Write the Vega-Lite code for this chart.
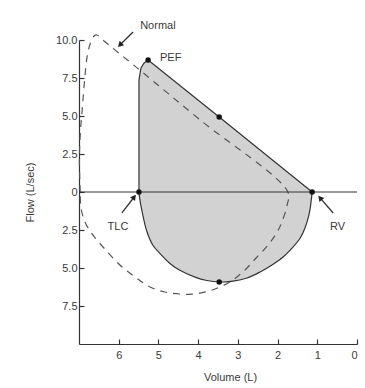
{
  "$schema": "https://vega.github.io/schema/vega-lite/v6.json",
  "autosize": "none",
  "width": 278,
  "height": 304,
  "padding": {"left": 79, "top": 40, "right": 8, "bottom": 44},
  "background": "white",
  "config": {
    "view": {"stroke": null},
    "font": "Liberation Sans",
    "axis": {"grid": false, "domainColor": "#333", "tickColor": "#333", "domainWidth": 1.2, "tickWidth": 1.2, "labelColor": "#3a3a3a", "titleColor": "#3a3a3a", "labelFontSize": 11, "titleFontSize": 11, "titleFontWeight": "normal", "labelFont": "Liberation Sans", "titleFont": "Liberation Sans"}
  },
  "datasets": {
    "loop": [
      {"i": 1, "vol": 5.49, "flow": 0},
      {"i": 2, "vol": 5.49, "flow": 6.05},
      {"i": 3, "vol": 5.49, "flow": 7.37},
      {"i": 4, "vol": 5.44, "flow": 8.16},
      {"i": 5, "vol": 5.36, "flow": 8.49},
      {"i": 6, "vol": 5.26, "flow": 8.68},
      {"i": 7, "vol": 3.47, "flow": 4.93},
      {"i": 8, "vol": 1.13, "flow": 0},
      {"i": 9, "vol": 1.16, "flow": -0.72},
      {"i": 10, "vol": 1.21, "flow": -1.51},
      {"i": 11, "vol": 1.31, "flow": -2.37},
      {"i": 12, "vol": 1.43, "flow": -3.03},
      {"i": 13, "vol": 1.63, "flow": -3.68},
      {"i": 14, "vol": 1.86, "flow": -4.28},
      {"i": 15, "vol": 2.14, "flow": -4.8},
      {"i": 16, "vol": 2.44, "flow": -5.26},
      {"i": 17, "vol": 2.77, "flow": -5.66},
      {"i": 18, "vol": 3.12, "flow": -5.86},
      {"i": 19, "vol": 3.47, "flow": -5.92},
      {"i": 20, "vol": 3.78, "flow": -5.82},
      {"i": 21, "vol": 4.08, "flow": -5.6},
      {"i": 22, "vol": 4.46, "flow": -5.15},
      {"i": 23, "vol": 4.71, "flow": -4.7},
      {"i": 24, "vol": 4.96, "flow": -4.05},
      {"i": 25, "vol": 5.14, "flow": -3.5},
      {"i": 26, "vol": 5.29, "flow": -2.6},
      {"i": 27, "vol": 5.41, "flow": -1.3},
      {"i": 28, "vol": 5.47, "flow": -0.45},
      {"i": 29, "vol": 5.49, "flow": 0}
    ],
    "normal": [
      {"i": 1, "vol": 6.97, "flow": 0},
      {"i": 2, "vol": 6.99, "flow": 2.11},
      {"i": 3, "vol": 6.97, "flow": 3.75},
      {"i": 4, "vol": 6.92, "flow": 5.39},
      {"i": 5, "vol": 6.87, "flow": 7.04},
      {"i": 6, "vol": 6.8, "flow": 8.82},
      {"i": 7, "vol": 6.72, "flow": 9.74},
      {"i": 8, "vol": 6.62, "flow": 10.26},
      {"i": 9, "vol": 6.55, "flow": 10.33},
      {"i": 10, "vol": 6.4, "flow": 10.0},
      {"i": 11, "vol": 5.46, "flow": 8.0},
      {"i": 12, "vol": 3.95, "flow": 4.74},
      {"i": 13, "vol": 1.74, "flow": 0},
      {"i": 14, "vol": 1.76, "flow": -0.86},
      {"i": 15, "vol": 1.89, "flow": -1.97},
      {"i": 16, "vol": 2.01, "flow": -2.63},
      {"i": 17, "vol": 2.24, "flow": -3.49},
      {"i": 18, "vol": 2.54, "flow": -4.34},
      {"i": 19, "vol": 2.82, "flow": -5.13},
      {"i": 20, "vol": 3.2, "flow": -5.92},
      {"i": 21, "vol": 3.65, "flow": -6.45},
      {"i": 22, "vol": 4.08, "flow": -6.71},
      {"i": 23, "vol": 4.46, "flow": -6.71},
      {"i": 24, "vol": 4.84, "flow": -6.58},
      {"i": 25, "vol": 5.21, "flow": -6.25},
      {"i": 26, "vol": 5.59, "flow": -5.59},
      {"i": 27, "vol": 5.97, "flow": -4.8},
      {"i": 28, "vol": 6.35, "flow": -3.75},
      {"i": 29, "vol": 6.67, "flow": -2.76},
      {"i": 30, "vol": 6.85, "flow": -1.97},
      {"i": 31, "vol": 6.95, "flow": -1.05},
      {"i": 32, "vol": 6.97, "flow": 0}
    ],
    "points": [
      {"name": "PEF", "vol": 5.26, "flow": 8.68},
      {"name": "mid", "vol": 3.47, "flow": 4.93},
      {"name": "RV", "vol": 1.13, "flow": 0},
      {"name": "TLC", "vol": 5.49, "flow": 0},
      {"name": "PIF", "vol": 3.47, "flow": -5.92}
    ],
    "labels": [
      {"text": "Normal", "vol": 5.46, "flow": 10.92},
      {"text": "PEF", "vol": 4.96, "flow": 8.82},
      {"text": "TLC", "vol": 6.28, "flow": -2.3},
      {"text": "RV", "vol": 0.68, "flow": -2.3}
    ],
    "arrows": [
      {"name": "Normal", "vol": 5.64, "flow": 10.53, "vol2": 5.97, "flow2": 9.67},
      {"name": "TLC", "vol": 5.92, "flow": -1.38, "vol2": 5.61, "flow2": -0.33},
      {"name": "RV", "vol": 0.6, "flow": -1.38, "vol2": 0.93, "flow2": -0.39}
    ]
  },
  "layer": [
    {
      "data": {"name": "loop"},
      "mark": {"type": "line", "fill": "#d2d2d2", "strokeWidth": 0, "interpolate": "linear"},
      "encoding": {
        "x": {"field": "vol", "type": "quantitative", "scale": {"domain": [7, 0], "nice": false},
          "axis": {"values": [6, 5, 4, 3, 2, 1, 0], "title": "Volume (L)", "tickSize": -5, "labelPadding": 10, "titleX": 151, "titleY": 33, "titleBaseline": "middle"}},
        "y": {"field": "flow", "type": "quantitative", "scale": {"domain": [-10, 10], "nice": false},
          "axis": {"values": [-7.5, -5, -2.5, 0, 2.5, 5, 7.5, 10], "labelExpr": "datum.value == 0 ? '0' : format(abs(datum.value), '.1f')", "title": "Flow (L/sec)", "tickSize": -5, "labelPadding": 7, "titleX": -49, "titleY": 152, "titleBaseline": "middle"}},
        "order": {"field": "i", "type": "quantitative"}
      }
    },
    {
      "data": {"name": "loop"},
      "transform": [{"filter": "datum.i <= 8"}],
      "mark": {"type": "line", "stroke": "#333", "strokeWidth": 1.2, "interpolate": "linear"},
      "encoding": {
        "x": {"field": "vol", "type": "quantitative"},
        "y": {"field": "flow", "type": "quantitative"},
        "order": {"field": "i", "type": "quantitative"}
      }
    },
    {
      "data": {"name": "loop"},
      "transform": [{"filter": "datum.i >= 8"}],
      "mark": {"type": "line", "stroke": "#333", "strokeWidth": 1.2, "interpolate": "catmull-rom"},
      "encoding": {
        "x": {"field": "vol", "type": "quantitative"},
        "y": {"field": "flow", "type": "quantitative"},
        "order": {"field": "i", "type": "quantitative"}
      }
    },
    {
      "data": {"name": "normal"},
      "mark": {"type": "line", "stroke": "#555", "strokeWidth": 1.2, "strokeDash": [7, 6], "interpolate": "catmull-rom"},
      "encoding": {
        "x": {"field": "vol", "type": "quantitative"},
        "y": {"field": "flow", "type": "quantitative"},
        "order": {"field": "i", "type": "quantitative"}
      }
    },
    {
      "data": {"values": [{"z": 0}]},
      "mark": {"type": "rule", "stroke": "#333", "strokeWidth": 1.2},
      "encoding": {"y": {"field": "z", "type": "quantitative"}}
    },
    {
      "data": {"name": "points"},
      "mark": {"type": "point", "filled": true, "color": "#111", "size": 30, "opacity": 1},
      "encoding": {
        "x": {"field": "vol", "type": "quantitative"},
        "y": {"field": "flow", "type": "quantitative"}
      }
    },
    {
      "data": {"name": "arrows"},
      "mark": {"type": "rule", "stroke": "#333", "strokeWidth": 1.3},
      "encoding": {
        "x": {"field": "vol", "type": "quantitative"},
        "y": {"field": "flow", "type": "quantitative"},
        "x2": {"field": "vol2"},
        "y2": {"field": "flow2"}
      }
    },
    {
      "data": {"name": "arrows"},
      "transform": [{"filter": "datum.name == 'Normal'"}],
      "mark": {"type": "point", "shape": "triangle-up", "filled": true, "color": "#222", "size": 40, "angle": 225, "opacity": 1},
      "encoding": {"x": {"field": "vol2", "type": "quantitative"}, "y": {"field": "flow2", "type": "quantitative"}}
    },
    {
      "data": {"name": "arrows"},
      "transform": [{"filter": "datum.name == 'TLC'"}],
      "mark": {"type": "point", "shape": "triangle-up", "filled": true, "color": "#222", "size": 40, "angle": 37, "opacity": 1},
      "encoding": {"x": {"field": "vol2", "type": "quantitative"}, "y": {"field": "flow2", "type": "quantitative"}}
    },
    {
      "data": {"name": "arrows"},
      "transform": [{"filter": "datum.name == 'RV'"}],
      "mark": {"type": "point", "shape": "triangle-up", "filled": true, "color": "#222", "size": 40, "angle": 319, "opacity": 1},
      "encoding": {"x": {"field": "vol2", "type": "quantitative"}, "y": {"field": "flow2", "type": "quantitative"}}
    },
    {
      "data": {"name": "labels"},
      "mark": {"type": "text", "font": "Liberation Sans", "fontSize": 11, "color": "#3a3a3a", "align": "left", "baseline": "middle"},
      "encoding": {
        "x": {"field": "vol", "type": "quantitative"},
        "y": {"field": "flow", "type": "quantitative"},
        "text": {"field": "text"}
      }
    }
  ]
}
